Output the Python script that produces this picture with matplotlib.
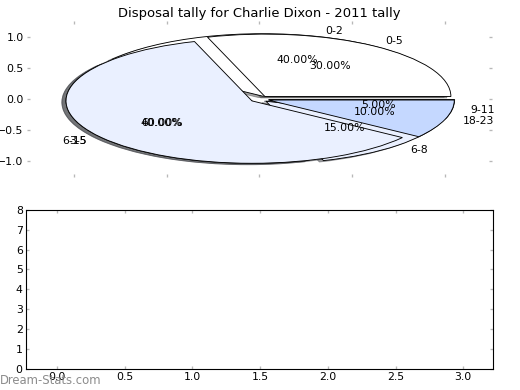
import matplotlib

matplotlib.use("Agg")
import matplotlib.pyplot as plt

# - Data

hours_a = ["0-2", "3-5", "6-8", "9-11"]
share_a = [40, 40, 15, 5]

hours_b = ["0-5", "6-15", "18-23"]
share_b = [30, 60, 10]

title = "Disposal tally for Charlie Dixon - 2011 tally"

pie_ticks = [-1.0, -0.5, 0.0, 0.5, 1.0]
bar_xticks = [0.0, 0.5, 1.0, 1.5, 2.0, 2.5, 3.0]
bar_yticks = [0, 1, 2, 3, 4, 5, 6, 7, 8]

# - Style

WHITE = "#ffffff"
LIGHT = "#eaf0ff"
MEDIUM = "#c5d8ff"
TICK_GREY = "#b8b8b8"

plt.rcParams["font.family"] = ["DejaVu Sans"]

fig = plt.figure(figsize=(6.5, 4.875), dpi=80)
ax_pie = fig.add_axes([0.052, 0.546, 0.894, 0.4])
ax_bar = fig.add_axes([0.05, 0.054, 0.898, 0.408])

# - Pies (second one drawn over the first)

text_kw = {"fontsize": 9.8}
edge_kw = {"linewidth": 0.8, "edgecolor": "black"}
ax_pie.pie(
    share_a,
    labels=hours_a,
    colors=[WHITE, LIGHT, LIGHT, MEDIUM],
    explode=[0.05] * len(share_a),
    autopct="%1.2f%%",
    shadow=True,
    textprops=text_kw,
    wedgeprops=edge_kw,
)
ax_pie.pie(
    share_b,
    labels=hours_b,
    colors=[WHITE, LIGHT, MEDIUM],
    explode=[0.05] * len(share_b),
    autopct="%1.2f%%",
    shadow=True,
    textprops=text_kw,
    wedgeprops=edge_kw,
)

ax_pie.set_aspect("auto")
ax_pie.set_xlim(-1.25, 1.25)
ax_pie.set_ylim(-1.25, 1.25)
ax_pie.set_xticks(pie_ticks)
ax_pie.set_yticks(pie_ticks)
ax_pie.set_xticklabels([])
ax_pie.set_frame_on(False)
ax_pie.set_title(title, fontsize=11.8, pad=4)

# - Empty lower axes

ax_bar.set_xlim(-0.23, 3.22)
ax_bar.set_ylim(0, 8)
ax_bar.set_xticks(bar_xticks)
ax_bar.set_yticks(bar_yticks)
for spine in ax_bar.spines.values():
    spine.set_linewidth(1.0)

for ax in (ax_pie, ax_bar):
    ax.tick_params(
        direction="in", length=3, width=1.2, color=TICK_GREY,
        top=True, right=True, labelsize=9.8, pad=3,
    )

# - Watermark

fig.text(0.0, 0.008, "Dream-Stats.com", color="#8c8c8c", fontsize=10.5, ha="left", va="bottom")

plt.savefig("out.png", dpi=80, facecolor="white")
